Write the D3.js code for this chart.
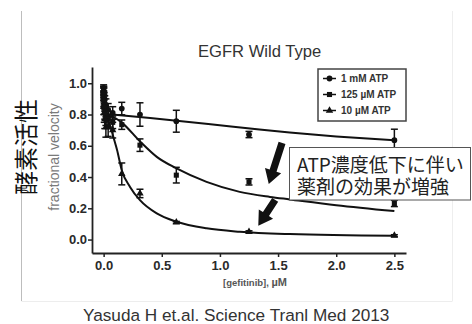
<!DOCTYPE html>
<html><head><meta charset="utf-8">
<script src="https://cdn.jsdelivr.net/npm/d3@7"></script>
<style>body{margin:0;background:#fff}svg{display:block}</style>
</head><body>
<svg id="c" width="472" height="324"></svg>
<script>
// ---- data ----
const concX = [0, 0.0012, 0.0024, 0.0049, 0.0098, 0.0195, 0.039, 0.078, 0.156, 0.3125, 0.625, 1.25, 2.5];
const s1Val = [0.97, 0.95, 0.93, 0.90, 0.87, 0.85, 0.83, 0.81, 0.838, 0.80, 0.757, 0.672, 0.636];
const s1Err = [0.02, 0.03, 0.04, 0.04, 0.05, 0.05, 0.04, 0.04, 0.04, 0.075, 0.07, 0.02, 0.07];
const s2Val = [0.96, 0.92, 0.88, 0.85, 0.82, 0.79, 0.77, 0.75, 0.735, 0.604, 0.412, 0.369, 0.231];
const s2Err = [0.02, 0.03, 0.04, 0.05, 0.05, 0.06, 0.05, 0.04, 0.03, 0.04, 0.05, 0.02, 0.02];
const s3Val = [0.94, 0.89, 0.85, 0.81, 0.77, 0.72, 0.72, 0.70, 0.42, 0.295, 0.11, 0.05, 0.025];
const s3Err = [0.03, 0.04, 0.05, 0.06, 0.06, 0.065, 0.06, 0.05, 0.07, 0.027, 0.006, 0.006, 0.006];

const fit1X = [0, 0.4, 0.9, 1.34, 1.6, 2.0, 2.5];
const fit1Y = [0.805, 0.778, 0.74, 0.704, 0.685, 0.66, 0.635];
const fit2X = [0, 0.05, 0.1, 0.156, 0.3125, 0.457, 0.627, 0.885, 1.17, 1.43, 1.6, 2.0, 2.5];
const fit2Y = [0.80, 0.79, 0.777, 0.748, 0.628, 0.529, 0.455, 0.369, 0.305, 0.273, 0.257, 0.22, 0.182];
const fit3X = [0, 0.03, 0.06, 0.09, 0.115, 0.156, 0.227, 0.3125, 0.457, 0.627, 0.885, 1.17, 1.6, 2.5];
const fit3Y = [0.80, 0.775, 0.72, 0.64, 0.575, 0.444, 0.337, 0.252, 0.167, 0.114, 0.072, 0.05, 0.035, 0.024];

const seriesNames = ["1 mM ATP", "125 \u00b5M ATP", "10 \u00b5M ATP"];
const xTicks = [0, 0.5, 1.0, 1.5, 2.0, 2.5];
const yTicks = [0, 0.2, 0.4, 0.6, 0.8, 1.0];
// annotation arrows in data units [x0,y0,x1,y1]
const arrows = [[1.534, 0.618, 1.42, 0.356], [1.475, 0.254, 1.33, 0.088]];

// ---- drawing ----
const svg = d3.select("#c");
const x = d3.scaleLinear().domain([-0.1, 2.6]).range([92, 406]);
const y = d3.scaleLinear().domain([-0.086, 1.104]).range([253, 67]);

// frame lines
svg.append("line").attr("x1",21.5).attr("x2",21.5).attr("y1",11).attr("y2",301).attr("stroke","#bdbdbd");
svg.append("line").attr("x1",452.5).attr("x2",452.5).attr("y1",11).attr("y2",301).attr("stroke","#eeeeee");
svg.append("line").attr("x1",21.5).attr("x2",452.5).attr("y1",301.5).attr("y2",301.5).attr("stroke","#ededed");

// title
svg.append("text").attr("x",198).attr("y",57).attr("font-family","Liberation Sans, Arial, sans-serif")
  .attr("font-size",16.6).attr("fill","#333").text("EGFR Wild Type");

// axes
const fmt = d3.format(".1f");
const gx = svg.append("g").attr("transform","translate(0,253)")
  .call(d3.axisBottom(x).tickValues(xTicks).tickFormat(fmt).tickSize(4).tickPadding(4).tickSizeOuter(0));
const gy = svg.append("g").attr("transform","translate(92,0)")
  .call(d3.axisLeft(y).tickValues(yTicks).tickFormat(fmt).tickSize(4).tickPadding(1).tickSizeOuter(0));
[gx, gy].forEach(g => {
  g.select(".domain").attr("stroke","#222").attr("stroke-width",1.8);
  g.selectAll(".tick line").attr("stroke","#222").attr("stroke-width",1.5);
  g.selectAll(".tick text").attr("font-family","Liberation Sans, Arial, sans-serif")
    .attr("font-size",13).attr("font-weight","bold").attr("fill","#2a2a2a");
});

// axis labels
svg.append("text").attr("transform","translate(59,157) rotate(-90)").attr("text-anchor","middle")
  .attr("font-family","Liberation Sans, Arial, sans-serif").attr("font-size",14).attr("fill","#7a7a7a")
  .text("fractional velocity");
const xl = svg.append("text").attr("x",255).attr("y",286).attr("text-anchor","middle")
  .attr("font-family","Liberation Sans, Arial, sans-serif").attr("font-weight","bold").attr("fill","#555");
xl.append("tspan").attr("font-size",9.5).text("[gefitinib], ");
xl.append("tspan").attr("font-size",11).text("\u00b5M");

svg.append("text").attr("transform","translate(24,147) rotate(-90)").attr("text-anchor","middle")
  .attr("dominant-baseline","central").attr("font-family","Noto Sans CJK JP").attr("font-size",24)
  .attr("fill","#111").text("酵素活性");

// fit curves
const line = d3.line().x(d => x(d[0])).y(d => y(d[1])).curve(d3.curveMonotoneX);
[[fit1X,fit1Y],[fit2X,fit2Y],[fit3X,fit3Y]].forEach(([xs,ys]) => {
  svg.append("path").datum(xs.map((v,i)=>[v,ys[i]])).attr("d",line)
    .attr("fill","none").attr("stroke","#111").attr("stroke-width",2);
});

// data points + error bars
const symbols = [d3.symbolCircle, d3.symbolSquare, d3.symbolTriangle];
const sizes = [26, 26, 24];
[[s1Val,s1Err],[s2Val,s2Err],[s3Val,s3Err]].forEach(([vals,errs], si) => {
  const g = svg.append("g");
  const pts = concX.map((c,i)=>({c, v: vals[i], e: errs[i]}));
  const eb = g.selectAll("g.eb").data(pts).join("g").attr("stroke","#111").attr("stroke-width",1.5);
  eb.append("line").attr("x1",d=>x(d.c)).attr("x2",d=>x(d.c)).attr("y1",d=>y(d.v-d.e)).attr("y2",d=>y(d.v+d.e));
  eb.append("line").attr("x1",d=>x(d.c)-3.5).attr("x2",d=>x(d.c)+3.5).attr("y1",d=>y(d.v-d.e)).attr("y2",d=>y(d.v-d.e));
  eb.append("line").attr("x1",d=>x(d.c)-3.5).attr("x2",d=>x(d.c)+3.5).attr("y1",d=>y(d.v+d.e)).attr("y2",d=>y(d.v+d.e));
  g.selectAll("path.m").data(pts).join("path")
    .attr("transform",d=>`translate(${x(d.c)},${y(d.v)})`)
    .attr("d", d3.symbol().type(symbols[si]).size(sizes[si])).attr("fill","#111");
});

// legend
const lg = svg.append("g");
lg.append("rect").attr("x",318).attr("y",69).attr("width",88).attr("height",52)
  .attr("fill","#fff").attr("stroke","#444").attr("stroke-width",1.5);
const lgY = [78.5, 94.5, 110.5];
seriesNames.forEach((n,i) => {
  lg.append("line").attr("x1",323).attr("x2",336).attr("y1",lgY[i]).attr("y2",lgY[i]).attr("stroke","#111").attr("stroke-width",1.5);
  lg.append("path").attr("transform",`translate(329.5,${lgY[i]})`).attr("d",d3.symbol().type(symbols[i]).size(sizes[i])).attr("fill","#111");
  lg.append("text").attr("x",341).attr("y",lgY[i]).attr("dy","0.36em")
    .attr("font-family","Liberation Sans, Arial, sans-serif").attr("font-size",10).attr("font-weight","bold")
    .attr("fill","#333").text(n);
});

// arrows
arrows.forEach(([a,b,c,d]) => {
  const x0=x(a), y0=y(b), x1=x(c), y1=y(d);
  const dx=x1-x0, dy=y1-y0, L=Math.hypot(dx,dy), ux=dx/L, uy=dy/L, nx=-uy, ny=ux;
  const sw=3.6, hw=8.5, hl=14;
  const bx=x1-ux*hl, by=y1-uy*hl;
  const p=[[x0+nx*sw,y0+ny*sw],[bx+nx*sw,by+ny*sw],[bx+nx*hw,by+ny*hw],[x1,y1],
           [bx-nx*hw,by-ny*hw],[bx-nx*sw,by-ny*sw],[x0-nx*sw,y0-ny*sw]];
  svg.append("path").attr("d","M"+p.map(q=>q.join(",")).join("L")+"Z").attr("fill","#111");
});

// annotation box
svg.append("rect").attr("x",289.5).attr("y",147.5).attr("width",181).attr("height",52.5)
  .attr("fill","#fff").attr("stroke","#555").attr("stroke-width",1);
const at = svg.append("text").attr("font-family","Noto Sans CJK JP").attr("font-size",19).attr("fill","#222");
at.append("tspan").attr("x",297).attr("y",172).text("ATP濃度低下に伴い");
at.append("tspan").attr("x",297).attr("y",193.5).text("薬剤の効果が増強");

// footer
svg.append("text").attr("x",83).attr("y",321).attr("font-family","Liberation Sans, Arial, sans-serif")
  .attr("font-size",17.2).attr("fill","#333").text("Yasuda H et.al. Science Tranl Med 2013");
</script>
</body></html>
